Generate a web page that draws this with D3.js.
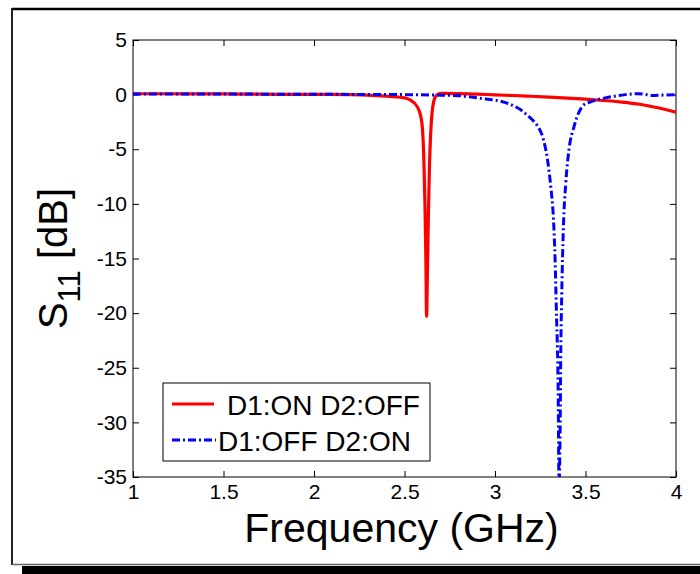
<!DOCTYPE html>
<html><head><meta charset="utf-8">
<script src="https://cdn.jsdelivr.net/npm/d3@7"></script>
<style>body{margin:0;background:#fff;}svg{display:block;font-family:Arial,"Liberation Sans",sans-serif;}</style>
</head><body>
<svg id="c" width="700" height="574"></svg>
<script>
const xTicks = [1, 1.5, 2, 2.5, 3, 3.5, 4];
const yTicks = [5, 0, -5, -10, -15, -20, -25, -30, -35];
const seriesNames = ["D1:ON D2:OFF", "D1:OFF D2:ON"];

const freqRed = [1.0, 1.2, 1.4, 1.6, 1.8, 2.0, 2.2, 2.35, 2.45, 2.5, 2.533, 2.57, 2.59, 2.6, 2.607, 2.613, 2.618, 2.622, 2.627, 2.632, 2.638, 2.644, 2.652, 2.662, 2.675, 2.7, 2.8, 2.9, 3.0, 3.1, 3.2, 3.3, 3.4, 3.5, 3.6, 3.7, 3.8, 3.9, 4.0];
const s11Red  = [0.08, 0.08, 0.07, 0.05, 0.03, 0.02, 0.0, -0.1, -0.2, -0.3, -0.5, -1.1, -2.0, -3.3, -6.0, -10, -15, -20.3, -16, -11, -6.5, -3.8, -1.7, -0.6, -0.1, 0.12, 0.1, 0.05, -0.03, -0.08, -0.15, -0.23, -0.32, -0.42, -0.54, -0.68, -0.88, -1.2, -1.6];

const freqBlue = [1.0, 1.5, 2.0, 2.5, 2.7, 2.8, 2.88, 2.95, 3.03, 3.1, 3.14, 3.18, 3.214, 3.24, 3.262, 3.29, 3.308, 3.323, 3.332, 3.339, 3.349, 3.354, 3.358, 3.36, 3.363, 3.369, 3.378, 3.391, 3.409, 3.437, 3.483, 3.52, 3.566, 3.61, 3.658, 3.72, 3.788, 3.83, 3.862, 3.92, 4.0];
const s11Blue  = [0.05, 0.05, 0.03, 0.0, -0.05, -0.1, -0.25, -0.4, -0.6, -1.0, -1.37, -1.9, -2.44, -3.0, -3.8, -5.95, -8.4, -11.4, -15.1, -19.7, -27.3, -36, -33, -30.4, -24.3, -18.1, -12.1, -8.1, -5.0, -2.9, -1.07, -0.7, -0.46, -0.3, -0.15, 0.0, 0.08, 0.02, -0.08, -0.05, 0.0];

const svg = d3.select("#c");
const L = 133, R = 676, T = 40, B = 477;
const x = d3.scaleLinear().domain([1, 4]).range([L, R]);
const y = d3.scaleLinear().domain([-35, 5]).range([B, T]);

// figure frame with shadow
svg.append("rect").attr("x", 22).attr("y", 566).attr("width", 700).attr("height", 8).attr("fill", "#000");
svg.append("line").attr("x1", 12).attr("x2", 700).attr("y1", 9).attr("y2", 9).attr("stroke", "#000").attr("stroke-width", 2.5);
svg.append("line").attr("x1", 12).attr("x2", 12).attr("y1", 8).attr("y2", 565).attr("stroke", "#222").attr("stroke-width", 2);
svg.append("line").attr("x1", 12).attr("x2", 700).attr("y1", 564.5).attr("y2", 564.5).attr("stroke", "#666").attr("stroke-width", 1.5);

svg.append("defs").append("clipPath").attr("id", "clip")
  .append("rect").attr("x", L).attr("y", T).attr("width", R - L).attr("height", B - T);

// axes box
svg.append("rect").attr("x", L).attr("y", T).attr("width", R - L).attr("height", B - T)
  .attr("fill", "none").attr("stroke", "#000").attr("stroke-width", 1);

const tl = 6;
const fmt = d => String(d);
const gB = svg.append("g").attr("transform", `translate(0,${B})`).call(d3.axisBottom(x).tickValues(xTicks).tickSizeInner(-tl).tickSizeOuter(0).tickFormat(fmt));
const gT = svg.append("g").attr("transform", `translate(0,${T})`).call(d3.axisTop(x).tickValues(xTicks).tickSizeInner(-tl).tickSizeOuter(0).tickFormat(""));
const gL = svg.append("g").attr("transform", `translate(${L},0)`).call(d3.axisLeft(y).tickValues(yTicks).tickSizeInner(-tl).tickSizeOuter(0).tickFormat(fmt));
const gR = svg.append("g").attr("transform", `translate(${R},0)`).call(d3.axisRight(y).tickValues(yTicks).tickSizeInner(-tl).tickSizeOuter(0).tickFormat(""));
[gB, gT, gL, gR].forEach(g => { g.select(".domain").remove(); g.selectAll("line").attr("stroke", "#000"); });
gB.selectAll("text").attr("font-size", 21).attr("fill", "#000").attr("font-family", "Arial, Liberation Sans, sans-serif").attr("dy", "1.0em").attr("y", 1);
gL.selectAll("text").attr("font-size", 21).attr("fill", "#000").attr("font-family", "Arial, Liberation Sans, sans-serif").attr("x", -6);

// lines
const line = d3.line().x(d => x(d[0])).y(d => y(d[1])).curve(d3.curveMonotoneX);
const g = svg.append("g").attr("clip-path", "url(#clip)");
g.append("path").datum(d3.zip(freqRed, s11Red)).attr("d", line)
  .attr("fill", "none").attr("stroke", "#f00").attr("stroke-width", 3.2);
g.append("path").datum(d3.zip(freqBlue, s11Blue)).attr("d", line)
  .attr("fill", "none").attr("stroke", "#00f").attr("stroke-width", 3)
  .attr("stroke-dasharray", "8,3,2,3");

// axis labels
svg.append("text").attr("x", (L + R) / 2 - 3).attr("y", 542).attr("text-anchor", "middle")
  .attr("font-size", 41).attr("fill", "#000").text("Frequency (GHz)");
const yl = svg.append("text").attr("transform", `translate(67,${(T + B) / 2}) rotate(-90)`)
  .attr("text-anchor", "middle").attr("font-size", 40).attr("fill", "#000");
yl.append("tspan").text("S");
yl.append("tspan").attr("font-size", 31).attr("dy", 13).text("11");
yl.append("tspan").attr("dy", -13).text(" [dB]");

// legend
const lg = svg.append("g");
lg.append("rect").attr("x", 163).attr("y", 383).attr("width", 267).attr("height", 78)
  .attr("fill", "#fff").attr("stroke", "#000").attr("stroke-width", 1);
lg.append("line").attr("x1", 172).attr("x2", 214).attr("y1", 404).attr("y2", 404)
  .attr("stroke", "#f00").attr("stroke-width", 3);
lg.append("line").attr("x1", 172).attr("x2", 216).attr("y1", 440).attr("y2", 440)
  .attr("stroke", "#00f").attr("stroke-width", 3).attr("stroke-dasharray", "8,3,2,3");
lg.append("text").attr("x", 227).attr("y", 415).attr("font-size", 28).attr("fill", "#000").text(seriesNames[0]);
lg.append("text").attr("x", 218).attr("y", 451).attr("font-size", 28).attr("fill", "#000").text(seriesNames[1]);
</script>
</body></html>
